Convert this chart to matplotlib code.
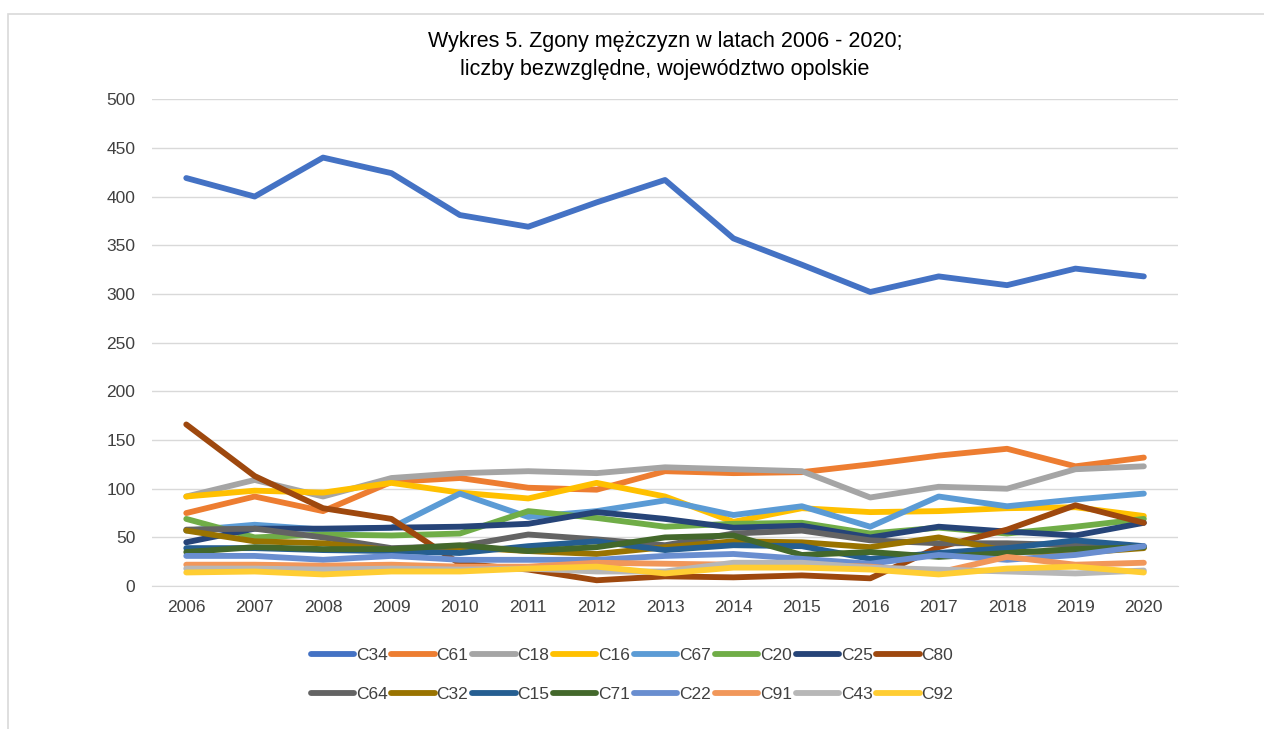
import matplotlib.pyplot as plt
import matplotlib.patches as patches
import numpy as np

years = [str(y) for y in range(2006, 2021)]

series_names = ['C34', 'C61', 'C18', 'C16', 'C67', 'C20', 'C25', 'C80',
                'C64', 'C32', 'C15', 'C71', 'C22', 'C91', 'C43', 'C92']

C34 = [419, 400, 440, 424, 381, 369, 394, 417, 357, 330, 302, 318, 309, 326, 318]
C61 = [75, 92, 77, 107, 111, 101, 99, 118, 116, 117, 125, 134, 141, 123, 132]
C18 = [92, 109, 92, 111, 116, 118, 116, 122, 120, 118, 91, 102, 100, 120, 123]
C16 = [92, 98, 96, 106, 96, 90, 106, 92, 66, 80, 76, 77, 80, 81, 72]
C67 = [57, 63, 58, 60, 95, 71, 77, 88, 73, 82, 61, 92, 82, 89, 95]
C20 = [69, 50, 53, 52, 54, 77, 70, 61, 64, 65, 54, 60, 54, 61, 69]
C25 = [45, 59, 59, 60, 61, 64, 76, 69, 60, 62, 50, 61, 56, 52, 65]
C80 = [166, 113, 80, 69, 23, 17, 6, 10, 9, 11, 8, 40, 58, 83, 65]
C64 = [58, 59, 50, 39, 41, 53, 48, 42, 54, 57, 47, 44, 44, 42, 40]
C32 = [57, 46, 44, 37, 40, 36, 33, 40, 46, 45, 40, 50, 36, 34, 39]
C15 = [39, 39, 37, 36, 34, 41, 46, 37, 42, 41, 28, 34, 39, 47, 41]
C71 = [35, 40, 38, 38, 42, 36, 40, 50, 52, 32, 35, 30, 34, 38, 40]
C22 = [31, 31, 27, 31, 27, 27, 27, 31, 33, 28, 23, 32, 27, 32, 41]
C91 = [22, 22, 21, 22, 20, 20, 24, 23, 22, 22, 20, 14, 30, 22, 24]
C43 = [18, 18, 17, 18, 17, 18, 15, 15, 24, 24, 19, 17, 15, 13, 16]
C92 = [14, 15, 12, 15, 15, 18, 20, 13, 19, 19, 17, 12, 18, 20, 14]

values = [C34, C61, C18, C16, C67, C20, C25, C80,
          C64, C32, C15, C71, C22, C91, C43, C92]

colors = ['#4472C4', '#ED7D31', '#A5A5A5', '#FFC000', '#5B9BD5', '#70AD47',
          '#264478', '#9E480E', '#636363', '#997300', '#255E91', '#43682B',
          '#698ED0', '#F1975A', '#B7B7B7', '#FFCD33']

plt.rcParams['font.family'] = ['Liberation Sans', 'DejaVu Sans']

fig = plt.figure(figsize=(12.64, 7.29), dpi=100)
ax = fig.add_axes([0.1203, 0.196, 0.8117, 0.668])

x = np.arange(len(years))
for name, vals, col in zip(series_names, values, colors):
    ax.plot(x, vals, color=col, lw=4.2, solid_capstyle='round',
            solid_joinstyle='round', label=name)

ax.set_xlim(-0.5, len(years) - 0.5)
ax.set_ylim(0, 500)
ax.set_yticks(range(0, 501, 50))
ax.set_xticks(x)
ax.set_xticklabels(years)
ax.grid(axis='y', color='#D9D9D9', lw=1)
ax.set_axisbelow(True)
for s in ['top', 'right', 'left']:
    ax.spines[s].set_visible(False)
ax.spines['bottom'].set_color('#D9D9D9')
ax.tick_params(length=0, labelsize=12.5, colors='#404040', pad=10)
ax.tick_params(axis='y', pad=12)

fig.text(0.526, 0.943, 'Wykres 5. Zgony mężczyzn w latach 2006 - 2020;',
         ha='center', va='center', fontsize=15.5, color='#000000')
fig.text(0.526, 0.905, 'liczby bezwzględne, województwo opolskie',
         ha='center', va='center', fontsize=15.5, color='#000000')

# legend filled row by row, 8 per row
handles, labels = ax.get_legend_handles_labels()
order = [i for pair in zip(range(8), range(8, 16)) for i in pair]
fig.legend([handles[i] for i in order], [labels[i] for i in order],
           loc='center', bbox_to_anchor=(0.5, 0.074),
           ncol=8, frameon=False, fontsize=12.5, handlelength=2.5,
           handletextpad=0.1, columnspacing=0.22, labelspacing=1.35,
           labelcolor='#404040')

border = patches.Rectangle((8 / 1264, -0.05), 1.1, 1 - 14 / 729 + 0.05,
                           transform=fig.transFigure, fill=False,
                           edgecolor='#D9D9D9', lw=1.2)
fig.patches.append(border)

fig.savefig('out.png', dpi=100)
